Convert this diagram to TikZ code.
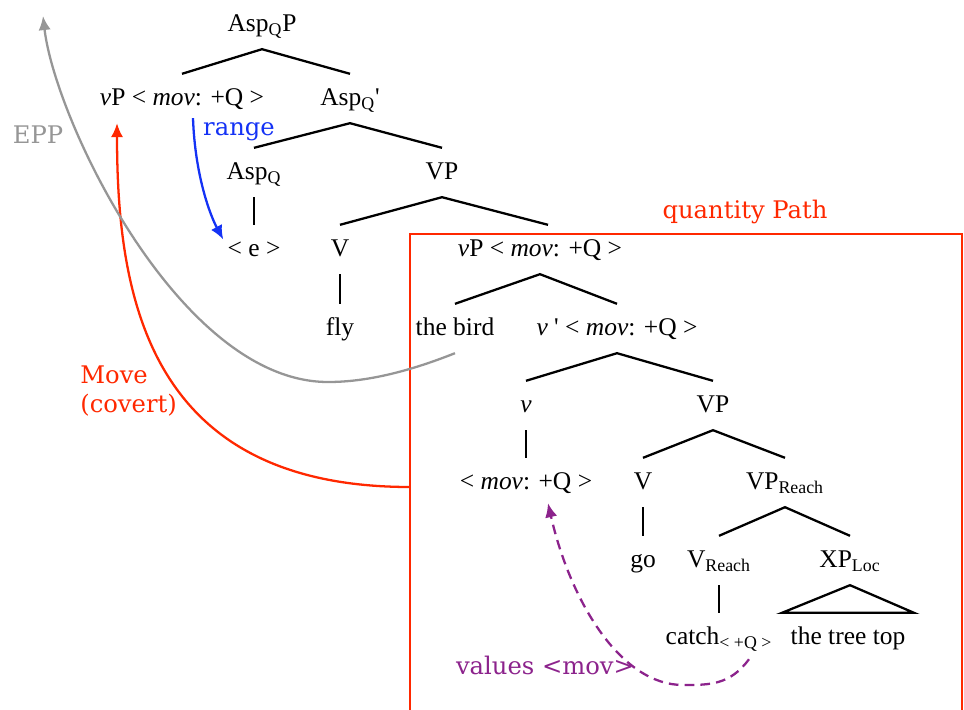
\documentclass[tikz,border=0pt]{standalone}
\usepackage{fontspec}
\setmainfont{Liberation Serif}
\newfontfamily\labfont{DejaVu Serif}
\usepackage{tikz}
\usepackage{xcolor}
\usetikzlibrary{arrows.meta}
\definecolor{qred}{RGB}{255,40,0}
\definecolor{qblue}{RGB}{20,50,245}
\definecolor{qpurple}{RGB}{140,35,140}
\definecolor{qgray}{RGB}{150,150,150}
\newcommand{\lsub}[1]{\textsubscript{#1}}

\begin{document}
\begin{tikzpicture}[x=0.02cm,y=-0.02cm,
  tn/.style={font=\fontsize{14.5}{17}\selectfont, text height=9.9pt, text depth=1.4pt,
    inner xsep=0pt, inner ysep=8.2pt},
  br/.style={line width=1.3pt},
  lab/.style={font=\labfont\fontsize{13.8}{16}\selectfont, inner sep=0pt},
  mv/.style={line width=1.3pt, -{Latex[length=8pt,width=7pt]}}]
  \useasboundingbox (0,0) rectangle (964,710);
  % the tree
  \node[tn] (aspqp) at (262,24.5) {Asp\lsub{Q}P};
  \node[tn] (vpmov) at (182,98.5) {\textit{v}P < \textit{mov}: +Q >};
  \node[tn] (aspqbar) at (350,98.5) {Asp\lsub{Q}\textquotesingle};
  \node[tn] (aspq) at (254,172.5) {Asp\lsub{Q}};
  \node[tn] (vpa) at (442,172.5) {VP};
  \node[tn] (e) at (254,249.5) {< e >};
  \node[tn] (va) at (340,249.5) {V};
  \node[tn] (vpb) at (540,249.5) {\textit{v}P < \textit{mov}: +Q >};
  \node[tn] (fly) at (340,328.5) {fly};
  \node[tn] (bird) at (455,328.5) {the bird};
  \node[tn] (vbar) at (617,328.5) {\textit{v} \textquotesingle{} < \textit{mov}: +Q >};
  \node[tn] (vlit) at (526,405.5) {\textit{v}};
  \node[tn] (vpc) at (713,405.5) {VP};
  \node[tn] (movq) at (526,482.5) {< \textit{mov}: +Q >};
  \node[tn] (vb) at (643,482.5) {V};
  \node[tn] (vpreach) at (785,482.5) {VP\lsub{Reach}};
  \node[tn] (go) at (643,560.5) {go};
  \node[tn] (vreach) at (719,560.5) {V\lsub{Reach}};
  \node[tn] (xploc) at (850,560.5) {XP\lsub{Loc}};
  \node[tn] (catch) at (719,637.5) {catch\lsub{< +Q >}};
  \node[tn] (treetop) at (848,637.5) {the tree top};

  \draw[br] (vpmov.north) -- (aspqp.south) -- (aspqbar.north);
  \draw[br] (aspq.north) -- (aspqbar.south) -- (vpa.north);
  \draw[br] (va.north) -- (vpa.south) -- ([xshift=0.16cm]vpb.north);
  \draw[br] (aspq.south) -- (e.north);
  \draw[br] (va.south) -- (fly.north);
  \draw[br] (bird.north) -- (vpb.south) -- (vbar.north);
  \draw[br] (vlit.north) -- (vbar.south) -- (vpc.north);
  \draw[br] (vlit.south) -- (movq.north);
  \draw[br] (vb.north) -- (vpc.south) -- (vpreach.north);
  \draw[br] (vb.south) -- (go.north);
  \draw[br] (vreach.north) -- (vpreach.south) -- (xploc.north);
  \draw[br] (vreach.south) -- (catch.north);
  \draw[br] (xploc.south) -- ([xshift=-1.32cm]treetop.north) -- ([xshift=1.32cm]treetop.north) -- cycle;

  % quantity path box
  \draw[qred,line width=1.2pt] (410,712) -- (410,234) -- (962,234) -- (962,712);
  \node[lab,text=qred] (qpath) at (745,212) {quantity Path};

  % arrows
  \coordinate (boxmove) at (410,487);
  \coordinate (eppend) at (43,16);
  \draw[mv,qred] (boxmove) .. controls (150,487) and (117,300) .. ([xshift=-1.3cm]vpmov.south);
  \draw[mv,qgray] (bird.south) .. controls (400,375) and (360,382) .. (328,382)
    .. controls (180,382) and (55,120) .. (eppend);
  \draw[mv,qblue] ([xshift=0.22cm,yshift=0.1cm]vpmov.south) .. controls (195,175) and (210,215) .. ([xshift=-0.08cm,yshift=0.2cm]e.west);
  \draw[mv,qpurple,dash pattern=on 5.5pt off 3.5pt] ([xshift=0.6cm,yshift=0.06cm]catch.south)
    .. controls (730,685) and (710,685) .. (683,685)
    .. controls (620,685) and (570,600) .. ([xshift=0.44cm,yshift=0.08cm]movq.south);

  \node[lab,text=qgray] (epp) at (38,135) {EPP};
  \node[lab,text=qblue] (range) at (239,132) {range};
  \node[lab,text=qred,align=left,anchor=west] (move) at (80,391) {Move\\(covert)};
  \node[lab,text=qpurple] (values) at (545,665) {values <mov>};
\end{tikzpicture}
\end{document}
